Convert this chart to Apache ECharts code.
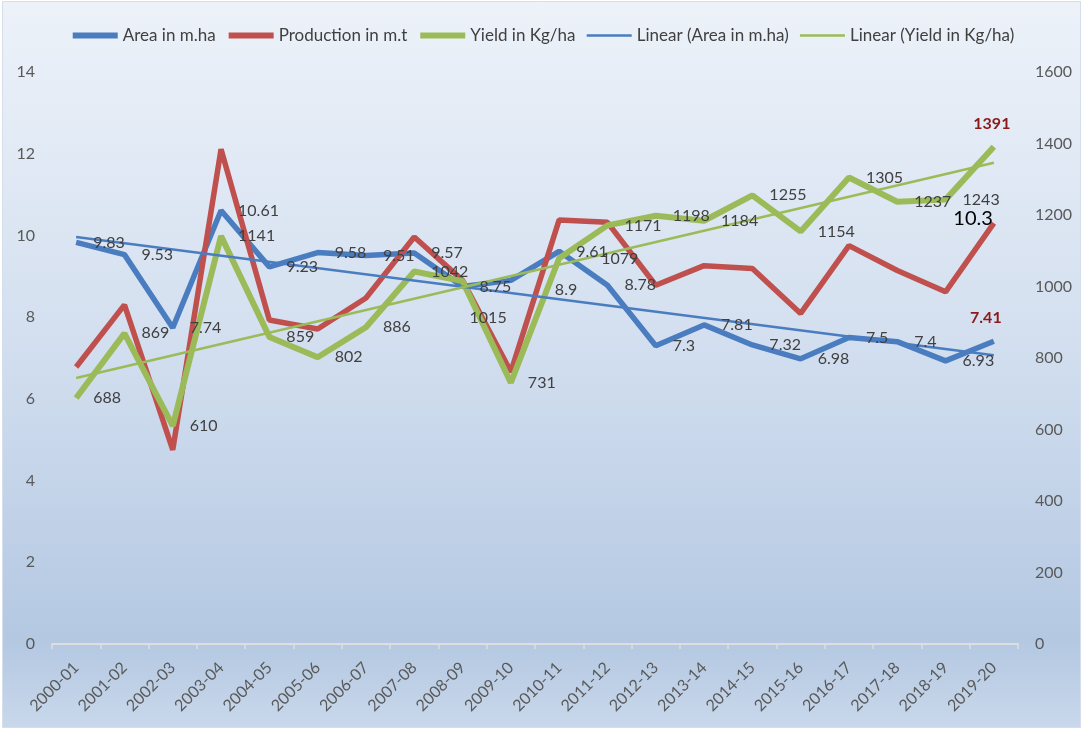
<!DOCTYPE html>
<html>
<head>
<meta charset="utf-8">
<script src="https://cdn.jsdelivr.net/npm/echarts@6/dist/echarts.min.js"></script>
<style>html,body{margin:0;padding:0;background:#fff;}#c{width:1084px;height:732px;}</style>
</head>
<body>
<div id="c"></div>
<script>
const categories = ['2000-01','2001-02','2002-03','2003-04','2004-05','2005-06','2006-07','2007-08','2008-09','2009-10','2010-11','2011-12','2012-13','2013-14','2014-15','2015-16','2016-17','2017-18','2018-19','2019-20'];
const areaValues = [9.83,9.53,7.74,10.61,9.23,9.58,9.51,9.57,8.75,8.9,9.61,8.78,7.3,7.81,7.32,6.98,7.5,7.4,6.93,7.41];
const productionValues = [6.78,8.30,4.75,12.11,7.93,7.71,8.47,9.96,8.9,6.66,10.38,10.32,8.78,9.26,9.19,8.09,9.75,9.14,8.62,10.3];
const yieldValues = [688,869,610,1141,859,802,886,1042,1015,731,1079,1171,1198,1184,1255,1154,1305,1237,1243,1391];
const areaTrendEnds = [9.96, 7.07];
const yieldTrendEnds = [744, 1346];
const seriesNames = ['Area in m.ha','Production in m.t','Yield in Kg/ha','Linear (Area in m.ha)','Linear (Yield in Kg/ha)'];
const leftAxisTicks = {min: 0, max: 14, interval: 2};
const rightAxisTicks = {min: 0, max: 1600, interval: 200};

const FONT = 'Lato, "Open Sans", sans-serif';
const BLUE = '#4a7cc0', RED = '#c0504d', GREEN = '#9bbb59';
const last = categories.length - 1;
const legendWidths = [6, 6, 6, 2.5, 2.5];

const baseLabel = {show: true, position: 'right', distance: 16, color: '#404040', fontSize: 16, fontFamily: FONT};

function areaData() {
  return areaValues.map((v, i) => {
    if (i === 9) return {value: v, label: {offset: [27, 9]}};
    if (i === last) return {value: v, label: {position: 'top', distance: 14, offset: [-8, 0], color: '#8b1a1a', fontWeight: 'bold'}};
    return v;
  });
}
function yieldData() {
  return yieldValues.map((v, i) => {
    if (i === 8) return {value: v, label: {offset: [-10, 37]}};
    if (i === 10) return {value: v, label: {offset: [25, 1]}};
    if (i === last) return {value: v, label: {position: 'top', distance: 14, offset: [-2, 0], color: '#8b1a1a', fontWeight: 'bold'}};
    return v;
  });
}
function productionData() {
  return productionValues.map((v, i) => {
    if (i === last) return {value: v, label: {show: true, position: 'left', distance: 0, offset: [0, -5], color: '#000000', fontSize: 20, fontFamily: FONT}};
    return v;
  });
}
function trend(ends) {
  return [[categories[0], ends[0]], [categories[last], ends[1]]];
}

const chart = echarts.init(document.getElementById('c'), null, {renderer: 'canvas'});
chart.setOption({
  animation: false,
  backgroundColor: '#ffffff',
  graphic: [{
    type: 'rect', z: -10, silent: true,
    shape: {x: 2.5, y: 1.5, width: 1078, height: 726},
    style: {
      fill: new echarts.graphic.LinearGradient(0, 0, 0, 1, [
        {offset: 0, color: '#edf2f9'}, {offset: 0.45, color: '#d4e0f0'}, {offset: 0.88, color: '#b4c8e2'}, {offset: 1, color: '#c9d8eb'}]),
      stroke: '#d5dfec', lineWidth: 1
    }
  }],
  legend: {
    top: 22, left: 'center', itemWidth: 45, itemHeight: 14, itemGap: 10,
    textStyle: {fontSize: 17, color: '#404040', fontFamily: FONT},
    itemStyle: {opacity: 0},
    data: seriesNames.map((n, i) => ({name: n, lineStyle: {width: legendWidths[i]}}))
  },
  grid: {left: 52, right: 66, top: 72, bottom: 88, containLabel: false},
  xAxis: {
    type: 'category', data: categories, boundaryGap: true,
    axisLine: {lineStyle: {color: '#dedede', width: 2}},
    axisTick: {show: true, length: 5, lineStyle: {color: '#dedede', width: 1.5}},
    axisLabel: {rotate: 45, margin: 21, fontSize: 16, color: '#595959', fontFamily: FONT, interval: 0}
  },
  yAxis: [
    {type: 'value', min: leftAxisTicks.min, max: leftAxisTicks.max, interval: leftAxisTicks.interval,
     axisLine: {show: false}, axisTick: {show: false}, splitLine: {show: false},
     axisLabel: {fontSize: 16, color: '#595959', fontFamily: FONT, margin: 17, formatter: v => String(v)}},
    {type: 'value', min: rightAxisTicks.min, max: rightAxisTicks.max, interval: rightAxisTicks.interval, position: 'right',
     axisLine: {show: false}, axisTick: {show: false}, splitLine: {show: false},
     axisLabel: {fontSize: 16, color: '#595959', fontFamily: FONT, margin: 17, formatter: v => String(v)}}
  ],
  series: [
    {name: seriesNames[0], type: 'line', yAxisIndex: 0, data: areaData(), symbol: 'circle', symbolSize: 2, showSymbol: true,
     itemStyle: {color: 'rgba(0,0,0,0)'}, lineStyle: {color: BLUE, width: 5.5}, label: baseLabel},
    {name: seriesNames[1], type: 'line', yAxisIndex: 0, data: productionData(), symbol: 'circle', symbolSize: 2, showSymbol: true,
     itemStyle: {color: 'rgba(0,0,0,0)'}, lineStyle: {color: RED, width: 5.5}, label: {show: false}},
    {name: seriesNames[2], type: 'line', yAxisIndex: 1, data: yieldData(), symbol: 'circle', symbolSize: 2, showSymbol: true,
     itemStyle: {color: 'rgba(0,0,0,0)'}, lineStyle: {color: GREEN, width: 6}, label: baseLabel},
    {name: seriesNames[3], type: 'line', yAxisIndex: 0, data: trend(areaTrendEnds), symbol: 'none',
     itemStyle: {color: 'rgba(0,0,0,0)'}, lineStyle: {color: BLUE, width: 2.5}},
    {name: seriesNames[4], type: 'line', yAxisIndex: 1, data: trend(yieldTrendEnds), symbol: 'none',
     itemStyle: {color: 'rgba(0,0,0,0)'}, lineStyle: {color: GREEN, width: 2.5}}
  ]
});
</script>
</body>
</html>
